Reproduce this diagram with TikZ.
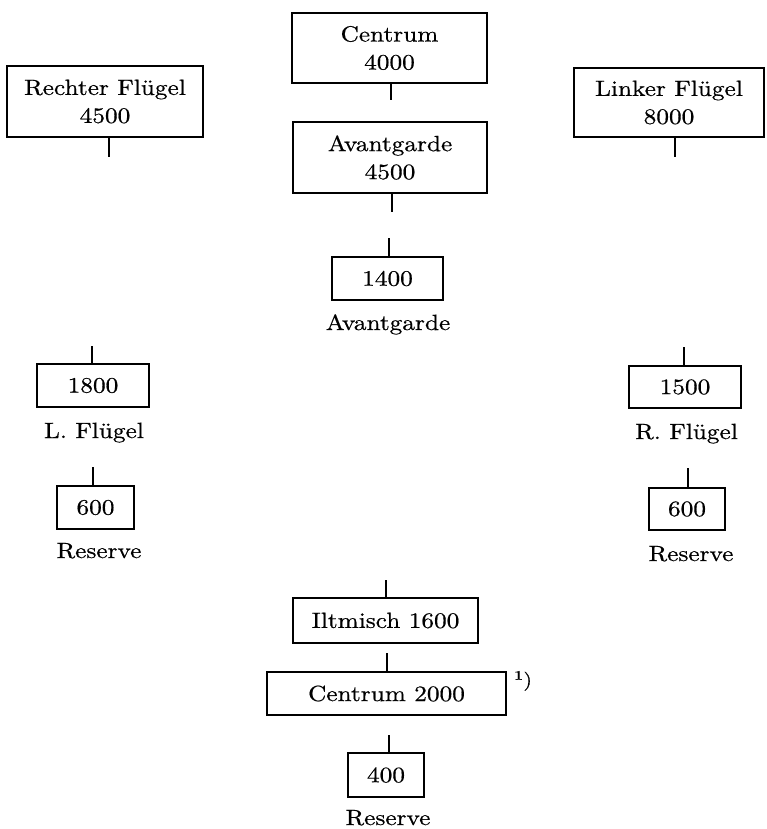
\documentclass[tikz,border=0pt]{standalone}
\usepackage{fontspec}
\setmainfont{lmroman10-regular.otf}[FakeStretch=1.15, FakeBold=0.6, BoldFont=lmroman10-bold.otf]
\begin{document}
\begin{tikzpicture}[x=1pt,y=-1pt,
  box/.style={draw, line width=1.1pt, inner sep=0pt, align=center, font=\fontsize{22}{28}\selectfont},
  stub/.style={line width=1.1pt},
  lab/.style={anchor=base, inner sep=0pt, font=\fontsize{22}{28}\selectfont}]
\useasboundingbox (0,0) rectangle (767,829);
% boxes
\node[box, minimum width=195, minimum height=70] (cen) at (389.5,48) {Centrum\\4000};
\node[box, minimum width=194, minimum height=71] (avg) at (390,157.5) {Avantgarde\\4500};
\node[box, minimum width=196, minimum height=71] (rf) at (105,101.5) {Rechter Flügel\\4500};
\node[box, minimum width=190, minimum height=69] (lf) at (669,102.5) {Linker Flügel\\8000};
\node[box, minimum width=111, minimum height=43] (b1400) at (387.5,278.5) {1400};
\node[box, minimum width=112, minimum height=43] (b1800) at (93,385.5) {1800};
\node[box, minimum width=112, minimum height=42] (b1500) at (685,387) {1500};
\node[box, minimum width=77, minimum height=43] (r600l) at (95.5,507.5) {600};
\node[box, minimum width=76, minimum height=42] (r600r) at (687,509) {600};
\node[box, minimum width=185, minimum height=45] (ilt) at (385.5,620.5) {Iltmisch 1600};
\node[box, minimum width=239, minimum height=43] (c2000) at (386.5,693.5) {Centrum 2000};
\node[box, minimum width=76, minimum height=44] (b400) at (386,775) {400};
% labels
\node[lab] (lavg) at (388,330) {Avantgarde};
\node[lab] (llf) at (94,438) {L. Flügel};
\node[lab] (lrf) at (686.5,439) {R. Flügel};
\node[lab] (lresl) at (99,558) {Reserve};
\node[lab] (lresr) at (691,561) {Reserve};
\node[lab] (lresc) at (388,825) {Reserve};
\node[anchor=base west, inner sep=0pt, font=\fontsize{19}{22}\selectfont] (fn) at (514,686) {\textsuperscript{\bfseries 1})};
% stubs below boxes
\coordinate (scen) at (391,100);
\coordinate (savg) at (392,212);
\coordinate (srf) at (109,157);
\coordinate (slf) at (675,157);
\draw[stub] (scen |- cen.south) -- (scen);
\draw[stub] (savg |- avg.south) -- (savg);
\draw[stub] (srf |- rf.south) -- (srf);
\draw[stub] (slf |- lf.south) -- (slf);
% stubs above boxes
\coordinate (t1400) at (389,238);
\coordinate (t1800) at (92,346);
\coordinate (t1500) at (684,347);
\coordinate (t600l) at (93,467);
\coordinate (t600r) at (688,468);
\coordinate (tilt) at (386,580);
\coordinate (tc2000) at (387,653);
\coordinate (t400) at (389,735);
\draw[stub] (t1400) -- (t1400 |- b1400.north);
\draw[stub] (t1800) -- (t1800 |- b1800.north);
\draw[stub] (t1500) -- (t1500 |- b1500.north);
\draw[stub] (t600l) -- (t600l |- r600l.north);
\draw[stub] (t600r) -- (t600r |- r600r.north);
\draw[stub] (tilt) -- (tilt |- ilt.north);
\draw[stub] (tc2000) -- (tc2000 |- c2000.north);
\draw[stub] (t400) -- (t400 |- b400.north);
\end{tikzpicture}
\end{document}
